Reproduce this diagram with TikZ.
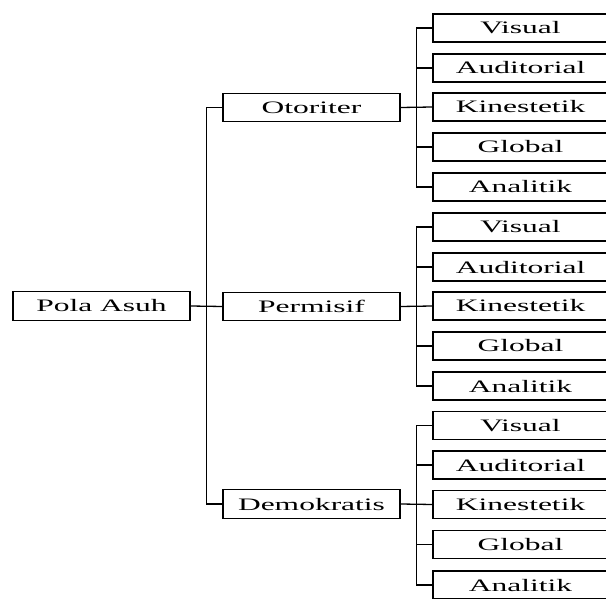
\documentclass[tikz,border=0pt]{standalone}
\usepackage{fontspec}
\setmainfont{Liberation Serif}
\newfontfamily\wideserif[FakeStretch=1.8]{Liberation Serif}
\begin{document}
\begin{tikzpicture}[x=1pt,y=-1pt,
  box/.style={draw=black,line width=1.3pt,fill=white,inner sep=0pt,
    font=\wideserif\fontsize{17.5}{20}\selectfont,text height=12pt,text depth=0pt,anchor=center},
  mainbox/.style={box,minimum width=177pt,minimum height=28.5pt},
  leafbox/.style={box,minimum width=175pt,minimum height=28pt},
  conn/.style={draw=black,line width=1.3pt}]
\useasboundingbox (0,0) rectangle (606,599);
\clip (0,0) rectangle (606,599);
\node[mainbox] (pola) at (101.5,306) {Pola Asuh};
\node[mainbox] (oto) at (311.5,107.5) {Otoriter};
\node[mainbox] (per) at (311.5,306.5) {Permisif};
\node[mainbox] (dem) at (311.5,504) {Demokratis};
\foreach \g/\ys in {a/{28,68,107,147,187}, b/{227,267,306,346,386}, c/{425.5,465,504.5,544.5,585}}{
  \foreach \t [count=\i] in {Visual,Auditorial,Kinestetik,Global,Analitik}{
    \pgfmathsetmacro\yy{{\ys}[\i-1]}
    \node[leafbox] (\g\i) at (520.5,\yy) {\t};
  }
}
% root connectors
\draw[conn] (pola.east) -- (per.west);
\draw[conn] (oto.west) -- ++(-16,0) coordinate (tt) |- (dem.west);
% group connectors
\foreach \m/\g in {oto/a, per/b, dem/c}{
  \draw[conn] (\m.east) -- (\g3.west);
  \draw[conn] (\g1.west) -- ++(-16,0) |- (\g5.west);
  \draw[conn] (\g2.west) -- ++(-16,0);
  \draw[conn] (\g4.west) -- ++(-16,0);
}
\end{tikzpicture}
\end{document}
